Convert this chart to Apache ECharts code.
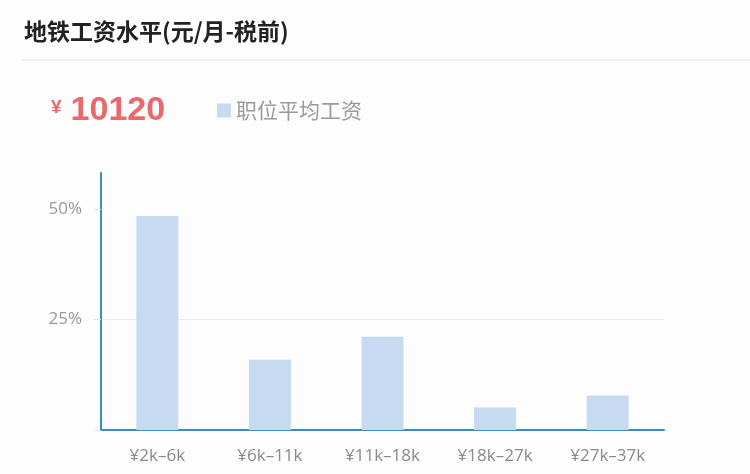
<!DOCTYPE html>
<html>
<head>
<meta charset="utf-8">
<title>地铁工资水平</title>
<style>
  html, body { margin: 0; padding: 0; background: #fdfdfd; }
  #chart { width: 750px; height: 474px; }
</style>
</head>
<body>
<div id="chart"></div>
<script src="https://cdn.jsdelivr.net/npm/echarts@6/dist/echarts.min.js"></script>
<script>
// 数据
var titleText = '地铁工资水平(元/月-税前)';
var avgSalary = 10120;
var seriesName = '职位平均工资';
var salaryRanges = ['¥2k–6k', '¥6k–11k', '¥11k–18k', '¥18k–27k', '¥27k–37k'];
var percentValues = [48.4, 15.9, 21.1, 5.1, 7.8];
var yTicks = [0, 25, 50];

var blue = '#3b8dc0';
var fontCn = '"Noto Sans CJK SC", "Open Sans", sans-serif';
var fontLatin = '"Open Sans", "Noto Sans CJK SC", sans-serif';

var myChart = echarts.init(document.getElementById('chart'));

// y轴上限按最大值留出 20%
var yMax = Math.round(Math.max.apply(null, percentValues) * 1.2 * 10) / 10;

var option = {
    backgroundColor: '#fdfdfd',
    animation: false,
    title: [{
        text: titleText,
        left: 19,
        top: 15,
        textStyle: { fontSize: 23, fontWeight: 'bold', color: '#222', fontFamily: fontCn }
    }, {
        text: '{a|¥}{b|' + avgSalary + '}',
        left: 46,
        top: 89,
        textStyle: {
            rich: {
                a: { fontSize: 19, color: '#e9696d', fontWeight: 'bold', fontFamily: '"Liberation Sans", Arial', padding: [0, 9, 6, 0] },
                b: { fontSize: 34, color: '#e9696d', fontWeight: 'bold', fontFamily: '"Liberation Sans", Arial' }
            }
        }
    }],
    graphic: [{
        type: 'line',
        shape: { x1: 22, y1: 60, x2: 750, y2: 60 },
        style: { stroke: '#ececec', lineWidth: 1.5 }
    }],
    legend: {
        left: 212,
        top: 95,
        icon: 'rect',
        itemWidth: 14,
        itemHeight: 14,
        itemGap: 6,
        textStyle: { fontSize: 21, color: '#9a9a9a', fontFamily: fontCn },
        data: [seriesName]
    },
    grid: { left: 101, right: 86, top: 173, bottom: 44 },
    xAxis: {
        type: 'category',
        data: salaryRanges,
        axisLine: { lineStyle: { color: blue, width: 2 } },
        axisTick: { inside: true, length: 6, lineStyle: { color: blue, width: 2 } },
        axisLabel: { color: '#8a8a8a', fontSize: 17, margin: 18, fontFamily: fontLatin }
    },
    yAxis: {
        type: 'value',
        min: 0,
        max: yMax,
        interval: 25,
        axisLine: { show: true, lineStyle: { color: blue, width: 2 } },
        axisTick: { show: true, length: 8, customValues: yTicks, lineStyle: { color: '#e6e6e6' } },
        axisLabel: {
            color: '#999',
            fontSize: 17,
            margin: 19,
            fontFamily: fontLatin,
            formatter: function (v) {
                return (v > 0 && v % 25 === 0) ? v + '%' : '';
            }
        },
        splitLine: { show: true, showMaxLine: false, lineStyle: { color: '#ebebeb', width: 1 } }
    },
    series: [{
        name: seriesName,
        type: 'bar',
        data: percentValues,
        barWidth: 42,
        itemStyle: { color: '#c6dbf2' }
    }]
};

myChart.setOption(option);
</script>
</body>
</html>
